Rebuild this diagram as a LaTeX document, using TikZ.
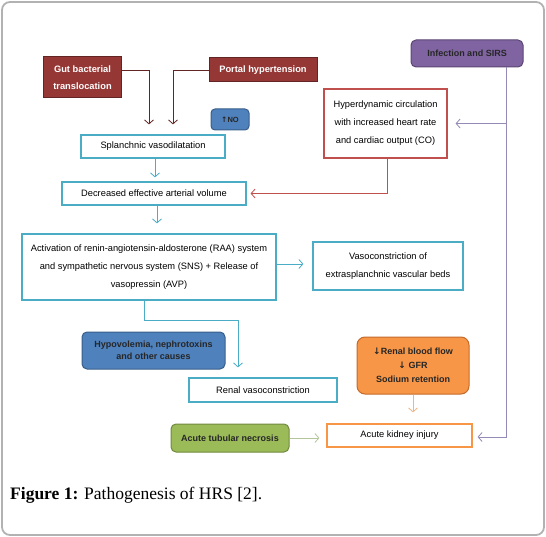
\documentclass[tikz,border=0pt]{standalone}
\usepackage{fontspec}
\setmainfont{Liberation Sans}
\newfontfamily\capfont{Liberation Serif}
\newfontfamily\arrowfont{DejaVu Sans}
\usetikzlibrary{arrows.meta}

\definecolor{lineblue}{HTML}{4BACC6}
\definecolor{darkred}{HTML}{953735}
\definecolor{darkredline}{HTML}{632523}
\definecolor{softred}{HTML}{C0504D}
\definecolor{purplebox}{HTML}{8064A2}
\definecolor{purpleline}{HTML}{948AB5}
\definecolor{boxblue}{HTML}{4F81BD}
\definecolor{boxblueline}{HTML}{385D8A}
\definecolor{orangebox}{HTML}{F79646}
\definecolor{orangeline}{HTML}{C46A2B}
\definecolor{softorange}{HTML}{F2B485}
\definecolor{greenbox}{HTML}{9BBB59}
\definecolor{greenline}{HTML}{71893F}
\definecolor{softgreen}{HTML}{B5C79A}

\begin{document}
\begin{tikzpicture}[x=1pt, y=-1pt,
    every node/.style={inner sep=2pt, align=center},
    plainbox/.style={draw=lineblue, line width=1.2pt, fill=white, font=\fontsize{9.3}{18}\selectfont},
    causebox/.style={draw=darkredline, line width=1pt, fill=darkred, text=white, font=\fontsize{9.3}{17.5}\selectfont\bfseries},
    roundbox/.style={line width=1pt, rounded corners=5pt, text=black!85, font=\fontsize{9}{13}\selectfont\bfseries},
    conn/.style={line width=0.8pt, -{Straight Barb[length=4pt, width=9pt]}}
  ]
  \useasboundingbox (0,0) rectangle (546,537);
  % cadre
  \draw[gray!60, line width=1.8pt, rounded corners=8pt] (2,2) rectangle (544,535);

  % causes en haut
  \node[causebox, minimum width=78, minimum height=41] (gut) at (82.5,77.5) {Gut bacterial\\translocation};
  \node[causebox, minimum width=108, minimum height=24] (portal) at (263,70) {Portal hypertension};
  \node[roundbox, draw=purplebox!70!black, fill=purplebox, minimum width=112, minimum height=27] (infect) at (467,53.5) {Infection and SIRS};
  \node[roundbox, draw=boxblueline, fill=boxblue, minimum width=38, minimum height=21, rounded corners=4pt, font=\fontsize{7.5}{9}\selectfont\bfseries] (no) at (230,119.5) {{\arrowfont\bfseries ↑}NO};

  % chaine centrale
  \node[plainbox, minimum width=144, minimum height=23] (splanch) at (153,146.5) {Splanchnic vasodilatation};
  \node[plainbox, draw=softred, minimum width=123, minimum height=69] (hyper) at (385.5,123.5) {Hyperdynamic circulation\\with increased heart rate\\and cardiac output (CO)};
  \node[plainbox, minimum width=184, minimum height=23] (decr) at (154,193.5) {Decreased effective arterial volume};
  \node[plainbox, minimum width=254, minimum height=66] (activ) at (149,267) {Activation of renin-angiotensin-aldosterone (RAA) system\\and sympathetic nervous system (SNS) + Release of\\vasopressin (AVP)};
  \node[plainbox, minimum width=150, minimum height=48] (vasoc) at (388,266) {Vasoconstriction of\\extrasplanchnic vascular beds};

  % partie basse
  \node[roundbox, draw=boxblueline, fill=boxblue, minimum width=143, minimum height=37, font=\fontsize{9}{12.5}\selectfont\bfseries] (hypov) at (153.5,350.5) {Hypovolemia, nephrotoxins\\and other causes};
  \node[plainbox, minimum width=148, minimum height=24] (renalv) at (263,390) {Renal vasoconstriction};
  \node[roundbox, draw=orangeline, fill=orangebox, minimum width=112, minimum height=57, rounded corners=8pt, font=\fontsize{9}{14}\selectfont\bfseries] (rbf) at (413,365.5) {{\arrowfont\bfseries ↓}Renal blood flow\\{\arrowfont\bfseries ↓} GFR\\Sodium retention};
  \node[roundbox, draw=greenline, fill=greenbox, minimum width=118, minimum height=28] (atn) at (230,438) {Acute tubular necrosis};
  \node[plainbox, draw=orangebox, minimum width=145, minimum height=23] (aki) at (399.5,435.5) {Acute kidney injury};

  % fleches
  \draw[conn, darkredline, shorten >=10pt] (gut.east |- portal.west) -| ([xshift=-4pt]splanch.north);
  \draw[conn, darkredline, shorten >=10pt] (portal.west) -| ([xshift=20pt]splanch.north);
  \draw[conn, lineblue, shorten >=4pt] ([xshift=2pt]splanch.south) -- ([xshift=2pt]splanch.south |- decr.north);
  \draw[conn, softred, shorten >=4pt] ([xshift=1.5pt]hyper.south) |- (decr.east);
  \draw[conn, purpleline, shorten >=5pt] ([xshift=39pt]infect.south) |- ([yshift=-1.5pt]aki.east);
  \draw[conn, purpleline, shorten >=8pt] ([xshift=39pt]infect.south |- hyper.east) -- (hyper.east);
  \draw[conn, lineblue, shorten >=10pt] ([xshift=3pt]decr.south) -- ([xshift=3pt]decr.south |- activ.north);
  \draw[conn, lineblue, shorten >=9pt] ([yshift=3pt]activ.east) -- ([yshift=3pt]activ.east -| vasoc.west);
  \draw[conn, lineblue, shorten >=10pt] ([xshift=-5pt]activ.south) -- ++(0,20) -| ([xshift=-25pt]renalv.north);
  \draw[conn, softorange, shorten >=11pt] (rbf.south) -- (rbf.south |- aki.north);
  \draw[conn, softgreen, shorten >=7pt] (atn.east) -- (atn.east -| aki.west);

  % legende
  \node[anchor=base west, font=\capfont\fontsize{17.5}{20}\selectfont, inner sep=0pt] (cap) at (10,499) {\textbf{Figure 1:} Pathogenesis of HRS [2].};
\end{tikzpicture}
\end{document}
